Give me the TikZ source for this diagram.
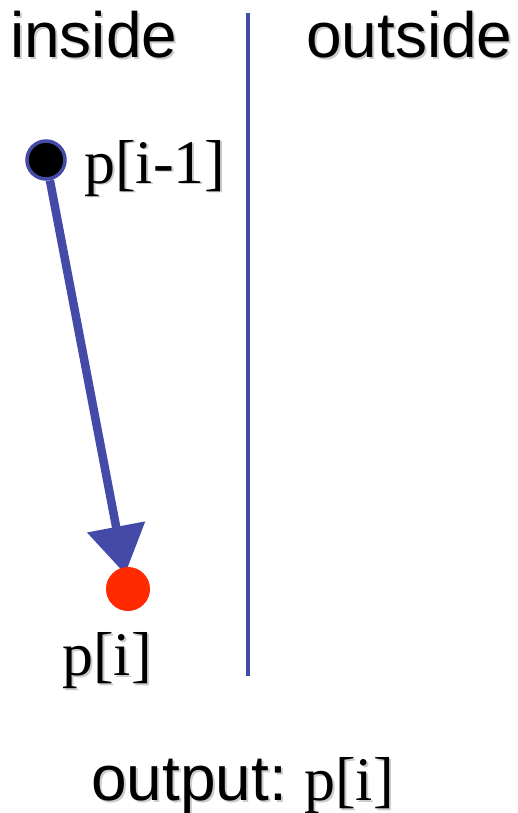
\documentclass[tikz,border=0pt]{standalone}
\usepackage{fontspec}
\setmainfont{Liberation Serif}
\newfontfamily\arial{Liberation Sans}
\usetikzlibrary{arrows.meta,backgrounds}
\definecolor{lineblue}{HTML}{444AA8}
\definecolor{dotred}{HTML}{FF2A00}
\definecolor{shadowgray}{HTML}{CCCCCC}
\tikzset{
  sanslabel/.style={inner sep=0pt, anchor=base west, font=\arial\fontsize{64}{70}\selectfont},
  seriflabel/.style={inner sep=0pt, anchor=base west, font=\fontsize{62}{68}\selectfont},
  shadowed/.style={text=shadowgray},
  divider/.style={draw=lineblue, line width=4pt},
  arrowline/.style={draw=lineblue, line width=8.5pt, shorten >=-7pt, -{Triangle[length=48pt,width=57pt]}},
}
\begin{document}
\begin{tikzpicture}[x=1pt,y=-1pt]
\useasboundingbox (0,0) rectangle (517,813);
% shadows
\node[sanslabel,shadowed] (insideS) at (12,60) {inside};
\node[sanslabel,shadowed] (outsideS) at (308,60) {outside};
\node[seriflabel,shadowed] (pimS) at (86,185) {p[i-1]};
\node[seriflabel,shadowed] (piS) at (64,677) {p[i]};
\node[sanslabel,shadowed] (outS) at (93,802) {output:};
\node[seriflabel,shadowed] (outpS) at (306,802) {p[i]};
% texts
\node[sanslabel] (inside) at (10,58) {inside};
\node[sanslabel] (outside) at (306,58) {outside};
\node[seriflabel] (pim) at (84,183) {p[i-1]};
\node[seriflabel] (pi) at (62,675) {p[i]};
\node[sanslabel] (out) at (91,800) {output:};
\node[seriflabel] (outp) at (304,800) {p[i]};
% divider
\coordinate (dtop) at (248,13);
\coordinate (dbot) at (248,676);
\draw[divider] (dtop) -- (dbot);
% dots
\node[circle, fill=black, draw=lineblue, line width=3.5pt, minimum size=38pt, inner sep=0pt] (a) at (46,160) {};
\node[circle, fill=dotred, minimum size=44pt, inner sep=0pt] (b) at (128,589) {};
\begin{scope}[on background layer]
\draw[arrowline] (a) -- (b);
\end{scope}
\end{tikzpicture}
\end{document}
